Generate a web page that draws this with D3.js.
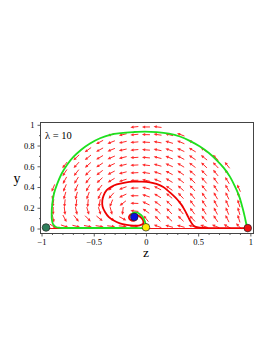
<!DOCTYPE html>
<html>
<head>
<meta charset="utf-8">
<script src="https://cdn.jsdelivr.net/npm/d3@7"></script>
<style>
    body { margin: 0; background: #fff; }
    text { font-family: "Liberation Serif", "Times New Roman", serif; }
</style>
</head>
<body>
<svg id="SVG_CONTAINER" width="273" height="353"></svg>
<script>
// plot box (pixels)
const BOX = { LEFT: 40.5, RIGHT: 253.5, TOP: 122.5, BOTTOM: 233.5 };

// axis ticks
const xTicks = [-1, -0.5, 0, 0.5, 1];
const yTicks = [0, 0.2, 0.4, 0.6, 0.8, 1];
const xMinor = [-0.9, -0.8, -0.7, -0.6, -0.4, -0.3, -0.2, -0.1, 0.1, 0.2, 0.3, 0.4, 0.6, 0.7, 0.8, 0.9];
const yMinor = [0.1, 0.3, 0.5, 0.7, 0.9];

// direction field grid
const fieldZ = [-0.889, -0.778, -0.667, -0.556, -0.444, -0.333, -0.222, -0.111, 0,
                 0.111, 0.222, 0.333, 0.444, 0.556, 0.667, 0.778, 0.889];
const fieldY = [0.022, 0.096, 0.169, 0.243, 0.316, 0.390, 0.464, 0.537, 0.611, 0.684, 0.758, 0.832, 0.905, 0.979];
// arrow angle (degrees, counter-clockwise from +z), one row per fieldY
const fieldAngle = [
    [-33, -19, -14, -11, -9, -7, -5, 1, 100, 160, 164, 164, 164, 162, 158, 151, 134],
    [-77, -62, -52, -45, -39, -35, -28, 15, 128, 135, 137, 136, 133, 130, 124, 117, 107],
    [269, 277, 283, 287, 288, 285, 263, 174, 145, 137, 133, 130, 127, 123, 118, 113, 106],
    [260, 264, 264, 265, 261, 248, 218, 178, 155, 143, 136, 131, 127, 123, 118, 114, 108],
    [253, 254, 254, 250, 243, 228, 205, 180, 161, 149, 140, 134, 129, 125, 120, 116, 111],
    [247, 247, 245, 240, 231, 218, 200, 181, 165, 153, 145, 138, 133, 128, 123, 119, 114],
    [null, 241, 238, 232, 223, 211, 197, 182, 168, 157, 149, 142, 136, 131, 126, 122, null],
    [null, 236, 232, 226, 218, 207, 195, 183, 171, 161, 152, 145, 139, 134, 129, 125, null],
    [null, 232, 228, 222, 214, 205, 194, 183, 173, 164, 156, 149, 143, 137, 133, 128, null],
    [null, null, 224, 219, 211, 203, 194, 184, 175, 166, 158, 152, 146, 141, 136, null, null],
    [null, null, null, 216, 209, 202, 193, 185, 176, 168, 161, 155, 149, 144, null, null, null],
    [null, null, null, null, 208, 201, 193, 185, 177, 170, 163, 157, 151, null, null, null, null],
    [null, null, null, null, null, 200, 193, 186, 179, 172, 165, 159, null, null, null, null, null],
    [null, null, null, null, null, null, null, 186, 180, 173, null, null, null, null, null, null, null]
];

// trajectories (z, y)
const greenZ = [0.975, 0.962, 0.947, 0.925, 0.893, 0.85, 0.804, 0.745, 0.676, 0.6, 0.517, 0.42, 0.325, 0.22,
    0.102, -0.01, -0.121, -0.24, -0.344, -0.44, -0.536, -0.62, -0.695, -0.755, -0.807, -0.85, -0.88, -0.897,
    -0.903, -0.9, -0.888, -0.862, -0.823, -0.7, -0.5, -0.3, -0.1, -0.02, -0.004, -0.008, -0.02, -0.036, -0.057,
    -0.08, -0.105, -0.125, -0.137, -0.136];
const greenY = [0.004, 0.04, 0.11, 0.2, 0.31, 0.41, 0.5, 0.585, 0.66, 0.73, 0.79, 0.845, 0.887, 0.915,
    0.93, 0.935, 0.93, 0.92, 0.903, 0.87, 0.82, 0.76, 0.69, 0.615, 0.53, 0.43, 0.34, 0.24,
    0.145, 0.08, 0.038, 0.015, 0.007, 0.005, 0.005, 0.005, 0.005, 0.008, 0.03, 0.06, 0.09, 0.118, 0.138,
    0.152, 0.156, 0.149, 0.135, 0.12];

const redZ = [0.975, 0.8, 0.65, 0.55, 0.5, 0.46, 0.432, 0.405, 0.375, 0.341, 0.3, 0.261, 0.215, 0.166, 0.1,
    0.038, -0.04, -0.121, -0.2, -0.28, -0.335, -0.376, -0.405, -0.418, -0.415, -0.392, -0.355, -0.313,
    -0.25, -0.185, -0.12, -0.06, -0.028, -0.026, -0.042, -0.07, -0.1, -0.13, -0.155, -0.163, -0.15,
    -0.12, -0.095, -0.09, -0.105];
const redY = [0.004, 0.004, 0.004, 0.006, 0.01, 0.025, 0.06, 0.11, 0.17, 0.226, 0.28, 0.32, 0.36, 0.4, 0.43,
    0.445, 0.452, 0.452, 0.443, 0.425, 0.4, 0.37, 0.32, 0.27, 0.21, 0.16, 0.11, 0.08,
    0.05, 0.035, 0.028, 0.03, 0.045, 0.075, 0.1, 0.122, 0.138, 0.14, 0.128, 0.105, 0.085,
    0.075, 0.085, 0.105, 0.115];

// critical points
const pointZ = [-0.957, 0.975, 0, -0.112];
const pointY = [0.01, 0.004, 0.012, 0.112];
const pointColor = ["#2f7f5c", "#ee1111", "#ffee00", "#0a10e0"];

setup = function () {
    let svg = d3.select("#SVG_CONTAINER");

    let x = d3.scaleLinear().domain([-1.01, 1.03]).range([BOX.LEFT, BOX.RIGHT]);
    let y = d3.scaleLinear().domain([-0.048, 1.022]).range([BOX.BOTTOM, BOX.TOP]);

    //** FIELD ARROWS *****************************************
    let arrows = [];
    fieldAngle.forEach(function (row, j) {
        row.forEach(function (a, k) {
            if (a !== null) arrows.push({ z: fieldZ[k], y: fieldY[j], a: a });
        });
    });

    let len = 8, head = 3.2, hw = 1.5;
    let field = svg.append("g").attr("class", "field");
    arrows.forEach(function (d) {
        let cx = x(d.z), cy = y(d.y);
        let r = d.a * Math.PI / 180;
        let ux = Math.cos(r), uy = -Math.sin(r);
        let x0 = cx - ux * len / 2, y0 = cy - uy * len / 2;
        let x1 = cx + ux * len / 2, y1 = cy + uy * len / 2;
        field.append("line")
            .attr("x1", x0).attr("y1", y0)
            .attr("x2", x1 - ux * head * 0.6).attr("y2", y1 - uy * head * 0.6)
            .attr("stroke", "#ff2a2a")
            .attr("stroke-width", 1);
        let bx = x1 - ux * head, by = y1 - uy * head;
        field.append("path")
            .attr("d", "M" + x1 + "," + y1 +
                "L" + (bx - uy * hw) + "," + (by + ux * hw) +
                "L" + (bx + uy * hw) + "," + (by - ux * hw) + "Z")
            .attr("fill", "#ff2a2a");
    });

    //** TRAJECTORIES *****************************************
    let line = d3.line()
        .x(d => x(d[0]))
        .y(d => y(d[1]))
        .curve(d3.curveCatmullRom);

    // invariant line y = 0
    svg.append("path")
        .attr("d", line([[-0.99, 0], [0.975, 0]]))
        .attr("fill", "none")
        .attr("stroke", "#ee1111")
        .attr("stroke-width", 1.2);

    svg.append("path")
        .attr("d", line(redZ.map((z, i) => [z, redY[i]])))
        .attr("fill", "none")
        .attr("stroke", "#ee0000")
        .attr("stroke-width", 1.8);

    svg.append("path")
        .attr("d", line(greenZ.map((z, i) => [z, greenY[i]])))
        .attr("fill", "none")
        .attr("stroke", "#1ee01e")
        .attr("stroke-width", 1.8);

    //** CRITICAL POINTS *****************************************
    svg.append("g")
        .selectAll("circle")
        .data(pointZ)
        .enter()
        .append("circle")
        .attr("cx", d => x(d))
        .attr("cy", (d, i) => y(pointY[i]))
        .attr("r", 3.8)
        .attr("fill", (d, i) => pointColor[i])
        .attr("stroke", "#222")
        .attr("stroke-width", 0.7);

    //** AXES *****************************************
    let xAxis = d3.axisBottom(x).tickValues(xTicks).tickSize(3).tickPadding(2)
        .tickFormat(d3.format("~g"));
    let xAxisMinor = d3.axisBottom(x).tickValues(xMinor).tickSize(1.5).tickFormat("");
    let yAxis = d3.axisLeft(y).tickValues(yTicks).tickSize(3).tickPadding(3)
        .tickFormat(d3.format("~g"));
    let yAxisMinor = d3.axisLeft(y).tickValues(yMinor).tickSize(1.5).tickFormat("");

    [[xAxis, "translate(0," + BOX.BOTTOM + ")"], [xAxisMinor, "translate(0," + BOX.BOTTOM + ")"],
     [yAxis, "translate(" + BOX.LEFT + ",0)"], [yAxisMinor, "translate(" + BOX.LEFT + ",0)"]]
        .forEach(function (a) {
            let g = svg.append("g").attr("transform", a[1]).call(a[0]);
            g.select(".domain").remove();
            g.selectAll("line").attr("stroke", "#333").attr("stroke-width", 0.8);
            g.selectAll("text")
                .attr("fill", "#000")
                .style("font-family", "'Liberation Serif', 'Times New Roman', serif")
                .style("font-size", "8.5px");
        });

    // frame
    svg.append("rect")
        .attr("x", BOX.LEFT)
        .attr("y", BOX.TOP)
        .attr("width", BOX.RIGHT - BOX.LEFT)
        .attr("height", BOX.BOTTOM - BOX.TOP)
        .attr("fill", "none")
        .attr("stroke", "#444")
        .attr("stroke-width", 1);

    //** LABELS *****************************************
    svg.append("text")
        .attr("x", 17).attr("y", 183)
        .attr("text-anchor", "middle")
        .style("font-size", "14px")
        .text("y");

    svg.append("text")
        .attr("x", 146).attr("y", 257)
        .attr("text-anchor", "middle")
        .style("font-size", "13.5px")
        .text("z");

    svg.append("text")
        .attr("x", 45).attr("y", 139)
        .style("font-size", "10.5px")
        .text("λ = 10");
};

window.onload = function () {
    setup();
};
</script>
</body>
</html>
